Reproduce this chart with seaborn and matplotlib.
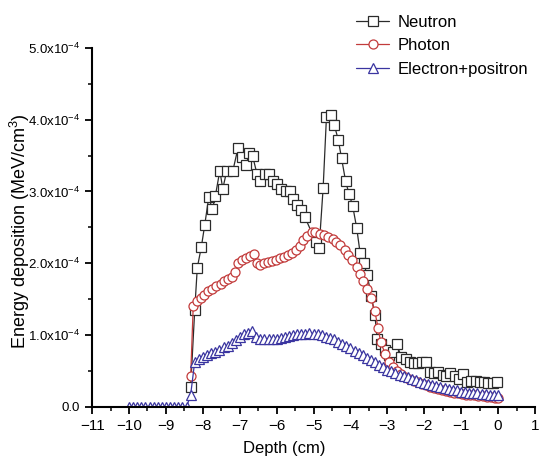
import matplotlib
matplotlib.use("Agg")
import matplotlib.pyplot as plt
import seaborn as sns
import pandas as pd
from matplotlib.ticker import MultipleLocator, FixedLocator, FixedFormatter

# Energy deposition (units of 1e-4 MeV/cm^3)
neutron_depth = [-8.33, -8.22, -8.15, -8.04, -7.95, -7.84, -7.74, -7.66, -7.54, -7.46,
                 -7.35, -7.19, -7.05, -6.95, -6.84, -6.75, -6.65, -6.53, -6.44, -6.32,
                 -6.20, -6.09, -5.99, -5.87, -5.75, -5.64, -5.55, -5.44, -5.33, -5.24,
                 -4.94, -4.85, -4.74, -4.65, -4.54, -4.44, -4.33, -4.24, -4.13, -4.04,
                 -3.94, -3.83, -3.74, -3.64, -3.55, -3.43, -3.34, -3.27, -3.16, -3.07,
                 -2.95, -2.84, -2.75, -2.62, -2.50, -2.39, -2.27, -2.17, -2.05, -1.94,
                 -1.85, -1.74, -1.62, -1.50, -1.40, -1.29, -1.17, -1.05, -0.95, -0.84,
                 -0.72, -0.60, -0.49, -0.38, -0.27, -0.15, -0.04]
neutron_val = [0.28, 1.35, 1.94, 2.23, 2.53, 2.92, 2.75, 2.94, 3.29, 3.04,
               3.29, 3.28, 3.60, 3.48, 3.37, 3.53, 3.49, 3.24, 3.14, 3.24,
               3.24, 3.14, 3.11, 3.03, 3.01, 3.00, 2.90, 2.81, 2.74, 2.65,
               2.30, 2.21, 3.05, 4.04, 4.06, 3.93, 3.72, 3.46, 3.14, 2.97,
               2.80, 2.49, 2.15, 2.00, 1.84, 1.54, 1.28, 0.94, 0.88, 0.79,
               0.72, 0.76, 0.87, 0.70, 0.66, 0.63, 0.61, 0.61, 0.62, 0.62,
               0.49, 0.47, 0.48, 0.45, 0.43, 0.47, 0.43, 0.39, 0.46, 0.35,
               0.36, 0.36, 0.35, 0.35, 0.33, 0.33, 0.35]

photon_depth = [-8.33, -8.26, -8.17, -8.06, -7.96, -7.86, -7.75, -7.63, -7.52, -7.42,
                -7.31, -7.22, -7.13, -7.04, -6.95, -6.83, -6.73, -6.62, -6.53, -6.44,
                -6.34, -6.23, -6.12, -6.02, -5.91, -5.80, -5.69, -5.58, -5.48, -5.37,
                -5.28, -5.17, -5.05, -4.95, -4.83, -4.72, -4.60, -4.48, -4.38, -4.27,
                -4.15, -4.06, -3.95, -3.83, -3.74, -3.65, -3.55, -3.45, -3.34, -3.25,
                -3.18, -3.06, -2.95, -2.84, -2.73, -2.62, -2.51, -2.40, -2.29, -2.18,
                -2.07, -1.96, -1.85, -1.74, -1.63, -1.52, -1.41, -1.30, -1.19, -1.08,
                -0.97, -0.86, -0.75, -0.64, -0.53, -0.42, -0.31, -0.20, -0.09, 0.00]
photon_val = [0.43, 1.41, 1.47, 1.51, 1.56, 1.61, 1.64, 1.68, 1.71, 1.75,
              1.78, 1.81, 1.88, 2.00, 2.04, 2.07, 2.10, 2.13, 2.01, 1.98,
              2.00, 2.02, 2.03, 2.05, 2.07, 2.09, 2.12, 2.15, 2.19, 2.24,
              2.32, 2.38, 2.43, 2.44, 2.41, 2.39, 2.36, 2.34, 2.29, 2.26,
              2.19, 2.12, 2.04, 1.95, 1.85, 1.75, 1.64, 1.51, 1.33, 1.10,
              0.90, 0.74, 0.63, 0.56, 0.50, 0.46, 0.42, 0.39, 0.36, 0.34,
              0.32, 0.30, 0.28, 0.26, 0.25, 0.23, 0.22, 0.21, 0.20, 0.19,
              0.18, 0.17, 0.16, 0.16, 0.15, 0.15, 0.14, 0.14, 0.13, 0.13]

electron_depth = [-10.00, -9.89, -9.78, -9.67, -9.56, -9.44, -9.33, -9.22, -9.11, -9.00,
                  -8.89, -8.78, -8.67, -8.56, -8.44, -8.33, -8.22, -8.11, -8.00, -7.89,
                  -7.78, -7.67, -7.56, -7.44, -7.33, -7.22, -7.11, -7.00, -6.89, -6.78,
                  -6.67, -6.56, -6.44, -6.33, -6.22, -6.11, -6.00, -5.89, -5.78, -5.67,
                  -5.56, -5.44, -5.33, -5.22, -5.11, -5.00, -4.89, -4.78, -4.67, -4.56,
                  -4.44, -4.33, -4.22, -4.11, -4.00, -3.89, -3.78, -3.67, -3.56, -3.44,
                  -3.33, -3.22, -3.11, -3.00, -2.89, -2.78, -2.67, -2.56, -2.44, -2.33,
                  -2.22, -2.11, -2.00, -1.89, -1.78, -1.67, -1.56, -1.44, -1.33, -1.22,
                  -1.11, -1.00, -0.89, -0.78, -0.67, -0.56, -0.44, -0.33, -0.22, -0.11,
                  0.00]
electron_val = [0.0, 0.0, 0.0, 0.0, 0.0, 0.0, 0.0, 0.0, 0.0, 0.0,
                0.0, 0.0, 0.0, 0.0, 0.0, 0.17, 0.63, 0.66, 0.70, 0.72,
                0.75, 0.77, 0.79, 0.83, 0.85, 0.89, 0.93, 0.98, 1.02, 1.03,
                1.06, 0.98, 0.95, 0.95, 0.94, 0.95, 0.95, 0.96, 0.98, 0.99,
                1.00, 1.01, 1.02, 1.02, 1.03, 1.02, 1.01, 1.00, 0.98, 0.96,
                0.94, 0.91, 0.88, 0.85, 0.82, 0.78, 0.75, 0.72, 0.68, 0.65,
                0.62, 0.58, 0.55, 0.52, 0.50, 0.47, 0.45, 0.43, 0.41, 0.39,
                0.37, 0.35, 0.33, 0.32, 0.30, 0.29, 0.27, 0.26, 0.25, 0.24,
                0.23, 0.21, 0.21, 0.20, 0.19, 0.19, 0.18, 0.18, 0.17, 0.17,
                0.16]

ytick_vals = [0, 1, 2, 3, 4, 5]
ytick_labels = ["0.0", "1.0x10$^{-4}$", "2.0x10$^{-4}$", "3.0x10$^{-4}$",
                "4.0x10$^{-4}$", "5.0x10$^{-4}$"]

sns.set_style("ticks")
plt.rcParams["font.family"] = ["Liberation Sans", "DejaVu Sans"]
plt.rcParams["mathtext.fontset"] = "custom"
plt.rcParams["mathtext.rm"] = "Liberation Sans"
plt.rcParams["mathtext.it"] = "Liberation Sans:italic"
plt.rcParams["mathtext.bf"] = "Liberation Sans:bold"
for key in ["text.color", "axes.labelcolor", "xtick.color", "ytick.color", "axes.edgecolor"]:
    plt.rcParams[key] = "black"

fig = plt.figure(figsize=(5.42, 4.65), dpi=100)
ax = fig.add_axes([0.170, 0.125, 0.817, 0.772])

series = [
    ("Neutron", neutron_depth, neutron_val, "#2b2b2b", "s"),
    ("Photon", photon_depth, photon_val, "#c23b3b", "o"),
    ("Electron+positron", electron_depth, electron_val, "#3a35a0", "^"),
]
for name, d, v, col, mk in series:
    df = pd.DataFrame({"depth": d, "val": v})
    sns.lineplot(data=df, x="depth", y="val", ax=ax, color=col, lw=0.9,
                 marker=mk, markersize=6.5, mfc="white", mec=col, mew=0.9,
                 sort=False, estimator=None, label=name)

ax.set_xlim(-11, 1)
ax.set_ylim(0, 5)
ax.xaxis.set_major_locator(MultipleLocator(1))
ax.xaxis.set_minor_locator(MultipleLocator(0.5))
ax.yaxis.set_major_locator(FixedLocator(ytick_vals))
ax.yaxis.set_major_formatter(FixedFormatter(ytick_labels))
ax.yaxis.set_minor_locator(MultipleLocator(0.5))
ax.tick_params(which="major", length=5, width=1.3, direction="out")
ax.tick_params(axis="x", labelsize=11)
ax.tick_params(axis="y", labelsize=9.5)
ax.tick_params(which="minor", length=3, width=1.1, direction="out")
for s in ["left", "bottom"]:
    ax.spines[s].set_linewidth(1.5)
sns.despine(ax=ax)

ax.set_xlabel("Depth (cm)", fontsize=12)
ax.xaxis.set_label_coords(0.433, -0.095)
ax.set_ylabel("Energy deposition (MeV/cm$^{3}$)", fontsize=13)
ax.yaxis.set_label_coords(-0.135, 0.49)

ax.legend(loc="upper left", bbox_to_anchor=(0.657, 0.968),
          bbox_transform=fig.transFigure, frameon=False, fontsize=12,
          handlelength=2.0, handletextpad=0.5, labelspacing=0.5,
          borderaxespad=0, borderpad=0)

fig.savefig("out.png", dpi=100)
